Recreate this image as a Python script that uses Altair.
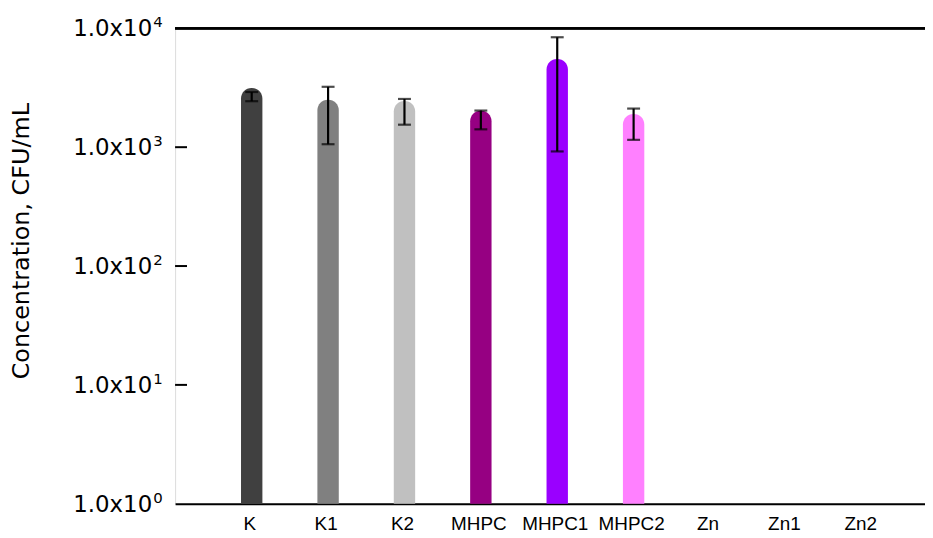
import altair as alt
import pandas as pd

# ---- data ----
categories = ["K", "K1", "K2", "MHPC", "MHPC1", "MHPC2", "Zn", "Zn1", "Zn2"]
bar_values = [3145, 2512, 2449, 2021, 5518, 1898, None, None, None]
err_low = [2437, 1059, 1546, 1413, 921, 1153, None, None, None]
err_high = [2912, 3222, 2546, 2033, 8414, 2113, None, None, None]
bar_colors = ["#404040", "#808080", "#C0C0C0", "#960082", "#9A00FF", "#FF80FF",
              "#000000", "#000000", "#000000"]

tick_values = [1, 10, 100, 1000, 10000]
tick_exponents = ["0", "1", "2", "3", "4"]
inner_ticks = [10, 100, 1000]
y_title = "Concentration, CFU/mL"

df = pd.DataFrame({"cat": categories, "value": bar_values,
                   "low": err_low, "high": err_high})
ticks_df = pd.DataFrame({"v": tick_values, "exp": tick_exponents})
inner_df = pd.DataFrame({"v": inner_ticks})
title_df = pd.DataFrame({"t": [y_title]})

W, H = 754, 478

xscale = alt.Scale(domain=categories, paddingInner=0, paddingOuter=0.409, align=0.615)
yscale = alt.Scale(type="log", domain=[1, 10000], nice=False)

xenc = alt.X("cat:N", scale=xscale, sort=categories,
             axis=alt.Axis(title=None, ticks=False, tickSize=0, labelPadding=11,
                           labelAngle=0, labelFont="Liberation Sans",
                           labelFontSize=19, labelColor="black", domainColor="black",
                           domainWidth=2, labelOffset=-2))

base = alt.Chart(df)

bars = base.mark_bar(size=21.5, cornerRadiusTopLeft=10.5, cornerRadiusTopRight=10.5).encode(
    x=xenc,
    y=alt.Y("value:Q", scale=yscale,
            axis=alt.Axis(title=None, labels=False, ticks=False,
                          grid=False, domainColor="black", domainWidth=2)),
    y2=alt.datum(1),
    color=alt.Color("cat:N", scale=alt.Scale(domain=categories, range=bar_colors),
                    legend=None),
)

err = base.mark_rule(color="black", strokeWidth=2.2).encode(
    x=alt.X("cat:N", scale=xscale, sort=categories),
    y=alt.Y("low:Q", scale=yscale, axis=None),
    y2="high:Q",
)
cap_low = base.mark_tick(color="black", orient="horizontal", size=13, thickness=2.2).encode(
    x=alt.X("cat:N", scale=xscale, sort=categories),
    y=alt.Y("low:Q", scale=yscale, axis=None),
)
cap_high = base.mark_tick(color="black", orient="horizontal", size=13, thickness=2.2).encode(
    x=alt.X("cat:N", scale=xscale, sort=categories),
    y=alt.Y("high:Q", scale=yscale, axis=None),
)

inner = alt.Chart(inner_df).mark_rule(color="black", strokeWidth=2).encode(
    y=alt.Y("v:Q", scale=yscale, axis=None),
    x=alt.value(0), x2=alt.value(12),
)

labels_main = alt.Chart(ticks_df).mark_text(
    align="right", baseline="middle", font="DejaVu Sans", fontSize=23, color="black", dy=1
).encode(
    y=alt.Y("v:Q", scale=yscale, axis=None),
    x=alt.value(-23),
    text=alt.value("1.0x10"),
)
labels_exp = alt.Chart(ticks_df).mark_text(
    align="left", baseline="alphabetic", font="DejaVu Sans", fontSize=15, color="black", dy=-1
).encode(
    y=alt.Y("v:Q", scale=yscale, axis=None),
    x=alt.value(-22),
    text="exp:N",
)

title_text = alt.Chart(title_df).mark_text(
    angle=270, align="center", baseline="middle", font="DejaVu Sans", fontSize=24, color="black"
).encode(
    x=alt.value(-154), y=alt.value(214), text="t:N",
)

top_line = alt.Chart(inner_df).mark_rule(color="black", strokeWidth=2.4).encode(
    y=alt.datum(10000),
    x=alt.value(0), x2=alt.value(W),
)

chart = alt.layer(bars, err, cap_low, cap_high, inner, labels_main, labels_exp,
                  title_text, top_line).properties(
    width=W, height=H,
    autosize=alt.AutoSizeParams(type="none"),
    padding={"left": 168, "top": 19, "right": 0, "bottom": 33},
).configure_view(stroke=None).configure(background="white")

chart.save("out.html", embed_options={"renderer": "svg", "actions": False})
